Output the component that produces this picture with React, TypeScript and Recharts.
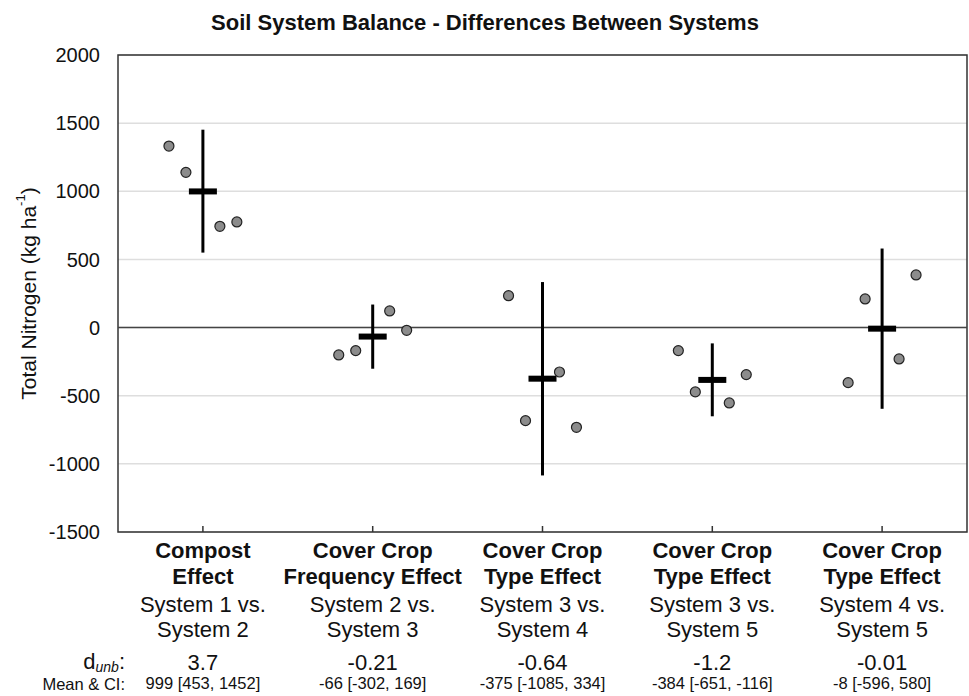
import React from 'react';
import {
  CartesianGrid,
  ComposedChart,
  ErrorBar,
  Label,
  ReferenceArea,
  ReferenceLine,
  Scatter,
  XAxis,
  YAxis,
} from 'recharts';

const FONT = '"Liberation Sans", Arial, Helvetica, sans-serif';

// comparison labels
const effectNames = [
  ['Compost', 'Effect'],
  ['Cover Crop', 'Frequency Effect'],
  ['Cover Crop', 'Type Effect'],
  ['Cover Crop', 'Type Effect'],
  ['Cover Crop', 'Type Effect'],
];
const comparisons = [
  ['System 1 vs.', 'System 2'],
  ['System 2 vs.', 'System 3'],
  ['System 3 vs.', 'System 4'],
  ['System 3 vs.', 'System 5'],
  ['System 4 vs.', 'System 5'],
];
const dUnb = ['3.7', '-0.21', '-0.64', '-1.2', '-0.01'];
const meanCiText = [
  '999 [453, 1452]',
  '-66 [-302, 169]',
  '-375 [-1085, 334]',
  '-384 [-651, -116]',
  '-8 [-596, 580]',
];

// mean and CI whiskers as drawn
const means = [999, -66, -375, -384, -8];
const ciLow = [550, -302, -1085, -651, -596];
const ciHigh = [1452, 169, 334, -116, 580];

// the four block differences, left to right
const observations = [
  [1332, 1139, 743, 775],
  [-201, -169, 122, -20],
  [234, -683, -326, -732],
  [-169, -472, -553, -345],
  [-404, 210, -230, 386],
];
const jitter = [-0.2, -0.1, 0.1, 0.2];

const yTicks = [-1500, -1000, -500, 0, 500, 1000, 1500, 2000];
const xTicks = [0.5, 1.5, 2.5, 3.5, 4.5];

const pointData = observations.flatMap((vals, i) =>
  vals.map((v, j) => ({ x: i + 0.5 + jitter[j], y: v }))
);
const meanData = means.map((m, i) => ({
  x: i + 0.5,
  y: m,
  err: [m - ciLow[i], ciHigh[i] - m],
}));

const Dot = (props: any) => (
  <circle cx={props.cx} cy={props.cy} r={5} fill="#8c8c8c" stroke="#222" strokeWidth={1.2} />
);

const MeanMark = (props: any) => (
  <rect x={props.cx - 14} y={props.cy - 3} width={28} height={6} fill="#000" />
);

const CategoryTick = (props: any) => {
  const { x, y, index } = props;
  return (
    <g fontFamily={FONT} fill="#111" textAnchor="middle">
      <line x1={x} x2={x} y1={y} y2={y - 6} stroke="#333" strokeWidth={1.5} />
      <text x={x} y={y + 26} fontSize={22} fontWeight="bold">{effectNames[index][0]}</text>
      <text x={x} y={y + 52} fontSize={22} fontWeight="bold">{effectNames[index][1]}</text>
      <text x={x} y={y + 80} fontSize={22}>{comparisons[index][0]}</text>
      <text x={x} y={y + 105} fontSize={22}>{comparisons[index][1]}</text>
      <text x={x} y={y + 138} fontSize={22}>{dUnb[index]}</text>
      <text x={x} y={y + 157} fontSize={16.5}>{meanCiText[index]}</text>
    </g>
  );
};

const YAxisLabel = (props: any) => {
  const vb = props.viewBox || { x: 0, y: 55, width: 118, height: 477 };
  const cx = vb.x + 28;
  const cy = vb.y + vb.height / 2;
  const right = vb.x + vb.width + 7;
  const bottom = vb.y + vb.height;
  return (
    <g fontFamily={FONT} fill="#111">
      <text
        x={cx}
        y={cy}
        fontSize={21}
        textAnchor="middle"
        dominantBaseline="central"
        transform={`rotate(-90, ${cx}, ${cy})`}
      >
        Total Nitrogen (kg ha
        <tspan dy={-8} fontSize={13}>-1</tspan>
        <tspan dy={8}>)</tspan>
      </text>
      <text x={right} y={bottom + 137} fontSize={22} textAnchor="end">
        d<tspan dy={3} fontSize={14} fontStyle="italic">unb</tspan>
        <tspan dy={-3}>:</tspan>
      </text>
      <text x={right} y={bottom + 158} fontSize={16.5} textAnchor="end">
        Mean &amp; CI:
      </text>
    </g>
  );
};

export default function App() {
  return (
    <div style={{ position: 'absolute', left: 0, top: 0, width: 969, height: 696, background: '#fff' }}>
      <ComposedChart
        width={969}
        height={696}
        margin={{ top: 55, right: 2, left: 0, bottom: 0 }}
        style={{ fontFamily: FONT }}
      >
        <text x={485} y={30} textAnchor="middle" fontSize={22} fontWeight="bold" fontFamily={FONT} fill="#111">
          Soil System Balance - Differences Between Systems
        </text>
        <CartesianGrid vertical={false} stroke="#dedede" strokeWidth={1.5} />
        <XAxis
          type="number"
          dataKey="x"
          domain={[0, 5]}
          ticks={xTicks}
          interval={0}
          height={164}
          axisLine={false}
          tickLine={false}
          tickSize={0}
          tickMargin={0}
          tick={<CategoryTick />}
        />
        <YAxis
          type="number"
          dataKey="y"
          domain={[-1500, 2000]}
          ticks={yTicks}
          interval={0}
          width={118}
          axisLine={false}
          tickLine={false}
          tickSize={0}
          tickMargin={18}
          tick={{ fontSize: 20, fill: '#111', fontFamily: FONT }}
        >
          <Label content={<YAxisLabel />} />
        </YAxis>
        <ReferenceLine y={0} stroke="#444" strokeWidth={1.5} />
        <ReferenceArea x1={0} x2={5} y1={-1500} y2={2000} fill="none" stroke="#333" strokeWidth={1.5} />
        <Scatter data={meanData} dataKey="y" shape={<MeanMark />} isAnimationActive={false}>
          <ErrorBar dataKey="err" direction="y" width={0} stroke="#000" strokeWidth={3} />
        </Scatter>
        <Scatter data={pointData} dataKey="y" shape={<Dot />} isAnimationActive={false} />
      </ComposedChart>
    </div>
  );
}
